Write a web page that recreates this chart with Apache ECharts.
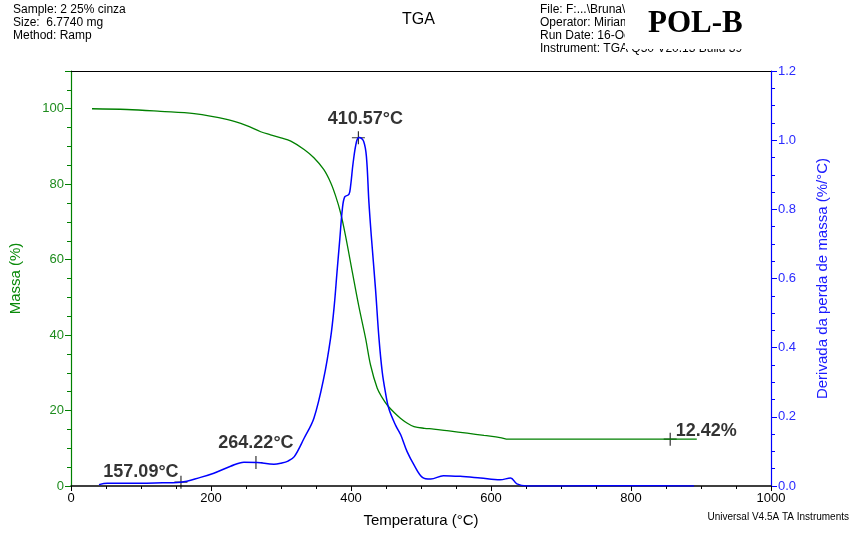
<!DOCTYPE html>
<html>
	<head>
		<meta charset="UTF-8">
		<title>TGA POL-B</title>
		<script src="https://cdn.jsdelivr.net/npm/echarts@6/dist/echarts.min.js" type="text/javascript" charset="utf-8"></script>
		<style>
			html, body { margin: 0; padding: 0; background: #fff; }
			#chart { width: 851px; height: 533px; }
		</style>
	</head>
	<body>
		<div id="chart"></div>
		<script type="text/javascript">
			// curva de massa (%)
			var tempMass = [30, 80, 128, 176, 224, 250, 271, 285, 300, 314, 333, 347, 361, 371, 378, 385, 392, 402, 411, 421, 428, 437.5, 445, 452, 462, 471, 480, 490, 505, 518, 540, 566, 590, 613, 625, 700, 800, 856, 894];
			var mass = [100, 99.8, 99.3, 98.7, 97.1, 95.6, 93.9, 93.1, 92.3, 91.4, 89.2, 87.0, 83.9, 80.4, 76.9, 72.5, 66.5, 56.6, 47.8, 39.0, 32.0, 25.9, 23.3, 21.4, 19.4, 17.9, 16.7, 15.75, 15.3, 15.1, 14.6, 14.0, 13.4, 12.85, 12.42, 12.42, 12.42, 12.42, 12.42];

			// derivada da perda de massa (%/°C)
			var tempDeriv = [40, 52, 81, 120, 157, 185, 204, 228, 247, 266, 290, 300, 310, 319, 333, 347, 361, 371, 376, 380, 384, 387.6, 391, 397, 399.4, 403, 408, 412, 418, 422, 425.6, 429, 435, 440, 444.6, 449, 454, 463.6, 471, 480, 490, 502, 514, 532, 556, 585, 613, 628, 637, 651, 700, 800, 890];
			var deriv = [0.004, 0.008, 0.008, 0.009, 0.011, 0.025, 0.037, 0.057, 0.069, 0.068, 0.063, 0.066, 0.072, 0.085, 0.138, 0.196, 0.311, 0.43, 0.52, 0.618, 0.714, 0.80, 0.836, 0.843, 0.867, 0.934, 0.997, 1.008, 0.997, 0.953, 0.82, 0.723, 0.57, 0.426, 0.33, 0.273, 0.224, 0.176, 0.148, 0.10, 0.061, 0.025, 0.02, 0.03, 0.028, 0.023, 0.018, 0.023, 0.006, 0, 0, 0.001, 0];

			// pontos marcados
			var peakTemps = [157.09, 264.22, 410.57];
			var peakDeriv = [0.011, 0.068, 1.007];
			var peakLabels = ['157.09°C', '264.22°C', '410.57°C'];
			var residueTemp = [856];
			var residueMass = [12.42];
			var residueLabels = ['12.42%'];

			var xTicks = [0, 200, 400, 600, 800, 1000];

			// deslocamento dos rótulos (estilo)
			var peakOffsets = [[-40, 11], [0, 2], [7, 2]];
			var residueOffsets = [[36, 13]];

			function zip(a, b) {
				return a.map(function (v, i) { return [v, b[i]]; });
			}

			function marks(xs, ys, labels, offsets) {
				return xs.map(function (v, i) {
					return {
						value: [v, ys[i]],
						label: { formatter: labels[i], offset: offsets[i] }
					};
				});
			}

			var plus = 'path://M0 6L12 6M6 0L6 12';
			var markLabel = {
				show: true,
				position: 'top',
				color: '#000',
				textBorderWidth: 0,
				fontFamily: 'Liberation Sans, Arial',
				fontWeight: 'bold',
				fontSize: 18
			};

			var chart = echarts.init(document.getElementById('chart'));
			var option = {
				animation: false,
				backgroundColor: '#fff',
				grid: { left: 70, right: 80, top: 71, bottom: 45 },
				xAxis: [
					{
						type: 'value', min: 0, max: 1000, interval: 200,
						name: 'Temperatura (°C)', nameLocation: 'middle', nameGap: 27,
						nameTextStyle: { color: '#000', fontSize: 15, fontFamily: 'Liberation Sans, Arial' },
						axisLine: { onZero: false, lineStyle: { color: '#000', width: 1.5 } },
						axisTick: { length: 5, lineStyle: { color: '#000' } },
						minorTick: { show: true, splitNumber: 4, length: 3, lineStyle: { color: '#000' } },
						axisLabel: { color: '#000', fontSize: 13, fontFamily: 'Liberation Sans, Arial', margin: 6,
							formatter: function (v) { return xTicks.indexOf(v) >= 0 ? String(v) : ''; } },
						splitLine: { show: false }
					},
					{
						type: 'value', min: 0, max: 1000, position: 'top',
						axisLine: { show: true, onZero: false, lineStyle: { color: '#000', width: 1.2 } },
						axisTick: { show: false }, axisLabel: { show: false }, splitLine: { show: false }
					}
				],
				yAxis: [
					{
						type: 'value', min: 0, max: 110, interval: 20, position: 'left',
						name: 'Massa (%)', nameLocation: 'middle', nameGap: 48,
						nameTextStyle: { color: '#0a8a0a', fontSize: 15, fontFamily: 'Liberation Sans, Arial' },
						axisLine: { show: true, onZero: false, lineStyle: { color: '#008000', width: 1.2 } },
						axisTick: { length: 6, lineStyle: { color: '#008000' } },
						minorTick: { show: true, splitNumber: 4, length: 4, lineStyle: { color: '#008000' } },
						axisLabel: { color: '#1e8c1e', fontSize: 13, fontFamily: 'Liberation Sans, Arial', margin: 7, showMaxLabel: false },
						splitLine: { show: false }
					},
					{
						type: 'value', min: 0, max: 1.2, interval: 0.2, position: 'right',
						name: 'Derivada da perda de massa (%/°C)', nameLocation: 'middle', nameGap: 44,
						nameRotate: 90,
						nameTextStyle: { color: '#1a1aff', fontSize: 15, fontFamily: 'Liberation Sans, Arial' },
						axisLine: { show: true, onZero: false, lineStyle: { color: '#0000ff', width: 1.2 } },
						axisTick: { length: 6, lineStyle: { color: '#0000ff' } },
						minorTick: { show: true, splitNumber: 4, length: 4, lineStyle: { color: '#0000ff' } },
						axisLabel: { color: '#2a2aff', fontSize: 13, fontFamily: 'Liberation Sans, Arial', margin: 7,
							formatter: function (v) { return v.toFixed(1); } },
						splitLine: { show: false }
					}
				],
				series: [
					{
						name: 'Massa', type: 'line', yAxisIndex: 0, showSymbol: false, smooth: 0.35,
						data: zip(tempMass, mass),
						lineStyle: { color: '#008000', width: 1.3 }
					},
					{
						name: 'Derivada', type: 'line', yAxisIndex: 1, showSymbol: false, smooth: 0.35,
						data: zip(tempDeriv, deriv),
						lineStyle: { color: '#0000ff', width: 1.5 }
					},
					{
						type: 'scatter', yAxisIndex: 1, symbol: plus, symbolSize: 13,
						itemStyle: { color: 'rgba(0,0,0,0)', borderColor: '#000', borderWidth: 1.2 },
						label: markLabel,
						data: marks(peakTemps, peakDeriv, peakLabels, peakOffsets)
					},
					{
						type: 'scatter', yAxisIndex: 0, symbol: plus, symbolSize: 13,
						itemStyle: { color: 'rgba(0,0,0,0)', borderColor: '#000', borderWidth: 1.2 },
						label: markLabel,
						data: marks(residueTemp, residueMass, residueLabels, residueOffsets)
					}
				],
				graphic: [
					{ type: 'text', left: 13, top: 3, style: { text: 'Sample: 2 25% cinza\nSize:  6.7740 mg\nMethod: Ramp', fill: '#000', fontSize: 12, lineHeight: 13, fontFamily: 'Liberation Sans, Arial' } },
					{ type: 'text', left: 402, top: 12, style: { text: 'TGA', fill: '#000', fontSize: 16, fontFamily: 'Liberation Sans, Arial' } },
					{ type: 'text', left: 540, top: 3, style: { text: 'File: F:...\\Bruna\\POL-B.001\nOperator: Miriam\nRun Date: 16-Oct-2015\nInstrument: TGA Q50 V20.13 Build 39', fill: '#000', fontSize: 12, lineHeight: 13, fontFamily: 'Liberation Sans, Arial' } },
					{ type: 'rect', shape: { x: 625, y: 0, width: 160, height: 49 }, style: { fill: '#fff' } },
					{ type: 'text', left: 648, top: 8, style: { text: 'POL-B', fill: '#000', fontSize: 31, fontWeight: 'bold', fontFamily: 'Liberation Serif, Times New Roman' } },
					{ type: 'text', right: 2, top: 512, style: { text: 'Universal V4.5A TA Instruments', fill: '#000', fontSize: 10, fontFamily: 'Liberation Sans, Arial' } }
				]
			};
			chart.setOption(option);
		</script>
	</body>
</html>
